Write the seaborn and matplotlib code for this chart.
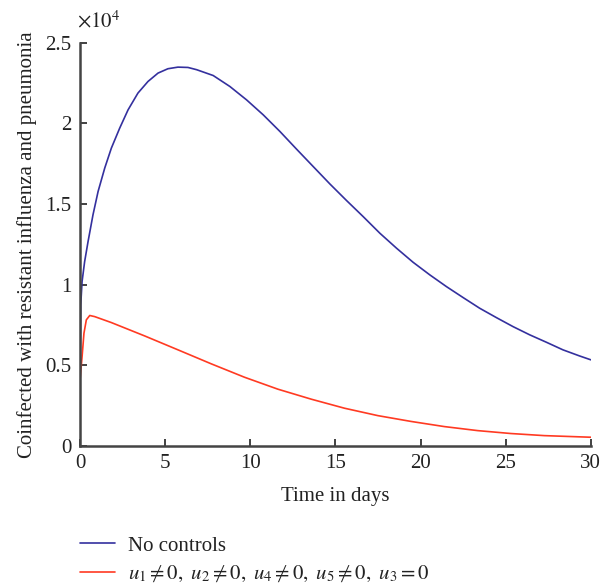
import numpy as np
import pandas as pd
import matplotlib
matplotlib.use("Agg")
import matplotlib.pyplot as plt
from matplotlib.ticker import FuncFormatter
import seaborn as sns

# ---- data ----
t_blue = [0.0, 0.04, 0.12, 0.27, 0.47, 0.76, 1.06, 1.45, 1.84, 2.33, 2.82, 3.40,
          3.99, 4.58, 5.16, 5.75, 6.34, 6.85, 7.82, 8.80, 9.78, 10.76, 11.74,
          12.72, 13.69, 14.67, 15.65, 16.63, 17.61, 18.59, 19.56, 20.54, 21.52,
          22.50, 23.47, 24.45, 25.43, 26.41, 27.39, 28.36, 29.34, 30.0]
v_blue = [4100, 8750, 10200, 11430, 12670, 14330, 15780, 17230, 18470, 19710,
          20840, 21880, 22600, 23120, 23390, 23490, 23470, 23330, 22970, 22290,
          21460, 20530, 19500, 18400, 17330, 16250, 15220, 14220, 13190, 12260,
          11390, 10610, 9880, 9200, 8540, 7960, 7400, 6890, 6430, 5960, 5580, 5340]

t_red = [0.0, 0.12, 0.23, 0.37, 0.57, 0.86, 1.84, 3.80, 5.75, 7.71, 9.66, 11.62,
         13.58, 15.53, 17.49, 19.44, 21.40, 23.36, 25.31, 27.27, 30.0]
v_red = [4100, 5540, 6990, 7820, 8090, 8020, 7650, 6820, 5960, 5090, 4260, 3520,
         2900, 2340, 1880, 1520, 1200, 950, 770, 640, 540]

labels = ["No controls",
          r"$u_1 \neq 0,\ u_2 \neq 0,\ u_4 \neq 0,\ u_5 \neq 0,\ u_3 = 0$"]
x_ticks = [0, 5, 10, 15, 20, 25, 30]
y_ticks = [0, 5000, 10000, 15000, 20000, 25000]
colors = ["#34309e", "#ff3a22"]

df = pd.concat([
    pd.DataFrame({"t": t_blue, "v": v_blue, "series": labels[0]}),
    pd.DataFrame({"t": t_red, "v": v_red, "series": labels[1]}),
], ignore_index=True)

sns.set_theme(style="ticks")
plt.rcParams["font.family"] = ["Liberation Serif", "DejaVu Serif"]
plt.rcParams["mathtext.fontset"] = "stix"

FS = 15

fig = plt.figure(figsize=(6.11, 5.86), dpi=100)
ax = fig.add_axes([0.131, 0.239, 0.836, 0.688])

sns.lineplot(data=df, x="t", y="v", hue="series", palette=colors,
             hue_order=labels, sort=False, estimator=None, ax=ax,
             linewidth=1.2, legend=False)

ax.set_xlim(0, 30)
ax.set_ylim(0, 25000)
ax.set_xticks(x_ticks)
ax.set_yticks(y_ticks)
ax.yaxis.set_major_formatter(FuncFormatter(lambda v, p: f"{v/1e4:g}"))
ax.tick_params(direction="in", length=5, width=1.3, color="#333333",
               labelsize=FS, pad=6, labelcolor="#222222")
for s in ["top", "right"]:
    ax.spines[s].set_visible(False)
for s in ["left", "bottom"]:
    ax.spines[s].set_linewidth(1.8)
    ax.spines[s].set_color("#444444")

ax.set_xlabel("Time in days", fontsize=FS, labelpad=10, color="#222222")
ax.set_ylabel("Coinfected with resistant influenza and pneumonia", fontsize=FS,
              labelpad=6, color="#222222")

ax.text(-0.005, 1.025, r"$\times10^4$", transform=ax.transAxes, fontsize=FS,
        ha="left", va="bottom", color="#222222")

handles = [plt.Line2D([0], [0], color=c, lw=1.2) for c in colors]
fig.legend(handles, labels, loc="upper left", bbox_to_anchor=(0.131, 0.085),
           frameon=False, fontsize=FS, handlelength=1.7, handletextpad=0.62,
           labelspacing=0.4, borderaxespad=0, borderpad=0, labelcolor="#222222")

fig.savefig("out.png", dpi=100)
